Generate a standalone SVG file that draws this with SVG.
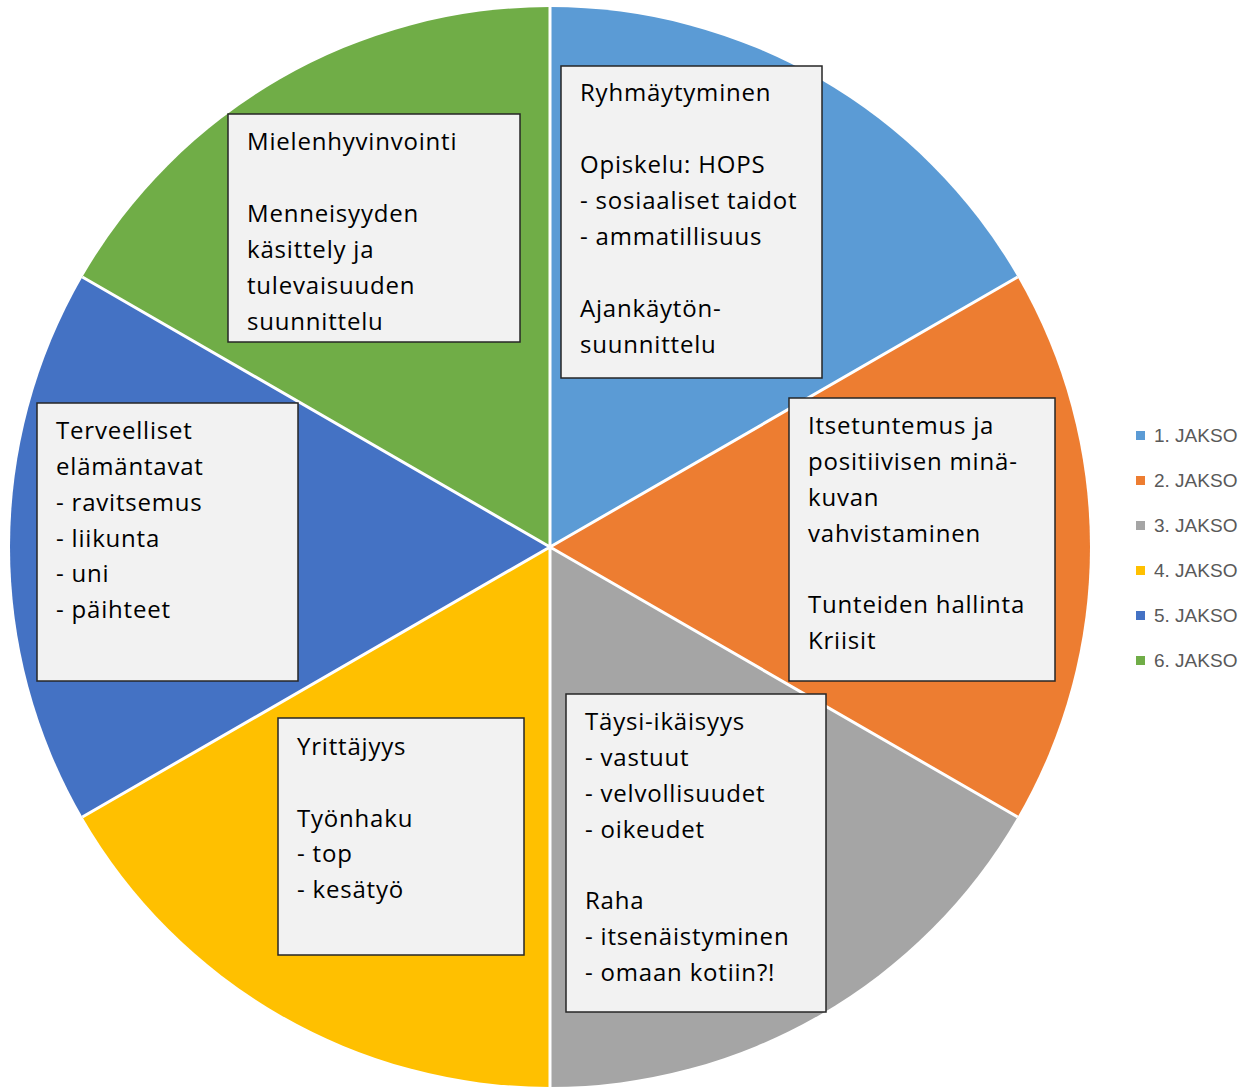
<svg xmlns="http://www.w3.org/2000/svg" width="1247" height="1088" viewBox="0 0 1247 1088">
<style>
.sep{stroke:#fff;stroke-width:3;fill:none}
.box{fill:#F2F2F2;stroke:#262626;stroke-width:1.5}
.t{font-family:"Open Sans","Liberation Sans",Arial,sans-serif;font-size:24px;letter-spacing:0.8px;fill:#000}
.lg{font-family:"Liberation Sans",Arial,sans-serif;font-size:19px;fill:#595959}
</style>
<rect width="1247" height="1088" fill="#fff"/>
<g id="slices">
<path id="s1" d="M550 547 L550 7 A540 540 0 0 1 1017.65 277 Z" fill="#5B9BD5"/>
<path id="s2" d="M550 547 L1017.65 277 A540 540 0 0 1 1017.65 817 Z" fill="#ED7D31"/>
<path id="s3" d="M550 547 L1017.65 817 A540 540 0 0 1 550 1087 Z" fill="#A5A5A5"/>
<path id="s4" d="M550 547 L550 1087 A540 540 0 0 1 82.35 817 Z" fill="#FFC000"/>
<path id="s5" d="M550 547 L82.35 817 A540 540 0 0 1 82.35 277 Z" fill="#4472C4"/>
<path id="s6" d="M550 547 L82.35 277 A540 540 0 0 1 550 7 Z" fill="#70AD47"/>
</g>
<g id="connectors">
<path class="sep" d="M550 547 L550 7 M550 547 L1017.65 277 M550 547 L1017.65 817 M550 547 L550 1087 M550 547 L82.35 817 M550 547 L82.35 277"/>
</g>
<g id="n1">
<rect class="box" x="561" y="66" width="261" height="312"/>
<text class="t" x="580"><tspan x="580" y="101">Ryhmäytyminen</tspan><tspan x="580" y="173">Opiskelu: HOPS</tspan><tspan x="580" y="209">- sosiaaliset taidot</tspan><tspan x="580" y="245">- ammatillisuus</tspan><tspan x="580" y="317">Ajankäytön-</tspan><tspan x="580" y="353">suunnittelu</tspan></text>
</g>
<g id="n6">
<rect class="box" x="228" y="114" width="292" height="228"/>
<text class="t"><tspan x="247" y="150">Mielenhyvinvointi</tspan><tspan x="247" y="222">Menneisyyden</tspan><tspan x="247" y="258">käsittely ja</tspan><tspan x="247" y="294">tulevaisuuden</tspan><tspan x="247" y="330">suunnittelu</tspan></text>
</g>
<g id="n2">
<rect class="box" x="789" y="398" width="266" height="283"/>
<text class="t"><tspan x="808" y="434">Itsetuntemus ja</tspan><tspan x="808" y="470">positiivisen minä-</tspan><tspan x="808" y="506">kuvan</tspan><tspan x="808" y="542">vahvistaminen</tspan><tspan x="808" y="613">Tunteiden hallinta</tspan><tspan x="808" y="649">Kriisit</tspan></text>
</g>
<g id="n5">
<rect class="box" x="37" y="403" width="261" height="278"/>
<text class="t"><tspan x="56" y="439">Terveelliset</tspan><tspan x="56" y="475">elämäntavat</tspan><tspan x="56" y="511">- ravitsemus</tspan><tspan x="56" y="547">- liikunta</tspan><tspan x="56" y="582">- uni</tspan><tspan x="56" y="618">- päihteet</tspan></text>
</g>
<g id="n4">
<rect class="box" x="278" y="718" width="246" height="237"/>
<text class="t"><tspan x="297" y="755">Yrittäjyys</tspan><tspan x="297" y="827">Työnhaku</tspan><tspan x="297" y="862">- top</tspan><tspan x="297" y="898">- kesätyö</tspan></text>
</g>
<g id="n3">
<rect class="box" x="566" y="694" width="260" height="318"/>
<text class="t"><tspan x="585" y="730">Täysi-ikäisyys</tspan><tspan x="585" y="766">- vastuut</tspan><tspan x="585" y="802">- velvollisuudet</tspan><tspan x="585" y="838">- oikeudet</tspan><tspan x="585" y="909">Raha</tspan><tspan x="585" y="945">- itsenäistyminen</tspan><tspan x="585" y="981">- omaan kotiin?!</tspan></text>
</g>
<g id="legend">
<rect x="1136" y="431" width="9" height="9" fill="#5B9BD5"/><text class="lg" x="1154" y="442">1. JAKSO</text>
<rect x="1136" y="476" width="9" height="9" fill="#ED7D31"/><text class="lg" x="1154" y="487">2. JAKSO</text>
<rect x="1136" y="521" width="9" height="9" fill="#A5A5A5"/><text class="lg" x="1154" y="532">3. JAKSO</text>
<rect x="1136" y="566" width="9" height="9" fill="#FFC000"/><text class="lg" x="1154" y="577">4. JAKSO</text>
<rect x="1136" y="611" width="9" height="9" fill="#4472C4"/><text class="lg" x="1154" y="622">5. JAKSO</text>
<rect x="1136" y="656" width="9" height="9" fill="#70AD47"/><text class="lg" x="1154" y="667">6. JAKSO</text>
</g>
</svg>
